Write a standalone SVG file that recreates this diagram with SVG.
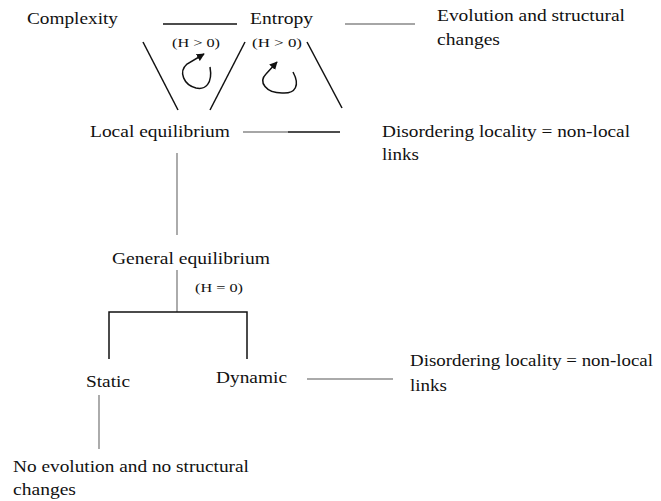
<svg xmlns="http://www.w3.org/2000/svg" width="661" height="501" viewBox="0 0 661 501">
<style>
text{font-family:"Liberation Serif","DejaVu Serif","Times New Roman",Times,serif;font-size:17px;fill:#111}
.s{font-size:12.5px}
.k{stroke:#111;stroke-width:1.5;fill:none}
.g{stroke:#888;stroke-width:1.4;fill:none}
.gl{stroke:#aaa;stroke-width:2;fill:none}
</style>
<defs>
<marker id="ah" viewBox="0 0 10 10" refX="9" refY="5" markerWidth="8" markerHeight="8" markerUnits="userSpaceOnUse" orient="auto">
<path d="M0,0 L10,5 L0,10 z" fill="#111"/>
</marker>
</defs>
<rect width="661" height="501" fill="#fff"/>
<g id="connectors">
<line class="k" x1="163" y1="24" x2="237" y2="24"/>
<line class="g" x1="345" y1="24" x2="415" y2="24"/>
<line class="k" x1="143" y1="42" x2="178" y2="110"/>
<line class="k" x1="245" y1="42" x2="210" y2="110"/>
<line class="k" x1="307" y1="42" x2="342" y2="108"/>
<path class="k" d="M210,67 C213,84 205,90 196,88 C184,85 178,72 187,64 L204,54" marker-end="url(#ah)"/>
<path class="k" d="M293,72 C300,85 296,94 282,93 C266,93 258,82 266,74 L277,62" marker-end="url(#ah)"/>
<line class="g" x1="243" y1="132" x2="288" y2="132"/>
<line class="k" x1="288" y1="132" x2="340" y2="132"/>
<line class="g" x1="177" y1="153" x2="177" y2="235"/>
<line class="g" x1="177" y1="270" x2="177" y2="312"/>
<polyline class="k" points="109,359 109,312 247,312 247,359"/>
<line class="gl" x1="307" y1="379" x2="393" y2="379"/>
<line class="g" x1="99" y1="395" x2="99" y2="449"/>
</g>
<g id="complexity"><text x="27" y="24" textLength="91" lengthAdjust="spacingAndGlyphs">Complexity</text></g>
<g id="entropy"><text x="250" y="24" textLength="63" lengthAdjust="spacingAndGlyphs">Entropy</text></g>
<g id="h1"><text class="s" x="172" y="47" textLength="48" lengthAdjust="spacingAndGlyphs">(H &gt; 0)</text></g>
<g id="h2"><text class="s" x="252" y="47" textLength="50" lengthAdjust="spacingAndGlyphs">(H &gt; 0)</text></g>
<g id="evolution"><text x="437" y="21" textLength="188" lengthAdjust="spacingAndGlyphs">Evolution and structural</text><text x="437" y="45" textLength="63" lengthAdjust="spacingAndGlyphs">changes</text></g>
<g id="local"><text x="90" y="137" textLength="140" lengthAdjust="spacingAndGlyphs">Local equilibrium</text></g>
<g id="disorder1"><text x="382" y="137" textLength="248" lengthAdjust="spacingAndGlyphs">Disordering locality = non-local</text><text x="382" y="160" textLength="37" lengthAdjust="spacingAndGlyphs">links</text></g>
<g id="general"><text x="112" y="264" textLength="158" lengthAdjust="spacingAndGlyphs">General equilibrium</text></g>
<g id="h0"><text class="s" x="195" y="292" textLength="48" lengthAdjust="spacingAndGlyphs">(H = 0)</text></g>
<g id="static"><text x="86" y="387" textLength="44" lengthAdjust="spacingAndGlyphs">Static</text></g>
<g id="dynamic"><text x="216" y="383" textLength="71" lengthAdjust="spacingAndGlyphs">Dynamic</text></g>
<g id="disorder2"><text x="410" y="366" textLength="243" lengthAdjust="spacingAndGlyphs">Disordering locality = non-local</text><text x="410" y="391" textLength="37" lengthAdjust="spacingAndGlyphs">links</text></g>
<g id="noevolution"><text x="13" y="472" textLength="236" lengthAdjust="spacingAndGlyphs">No evolution and no structural</text><text x="13" y="495" textLength="63" lengthAdjust="spacingAndGlyphs">changes</text></g>
</svg>
